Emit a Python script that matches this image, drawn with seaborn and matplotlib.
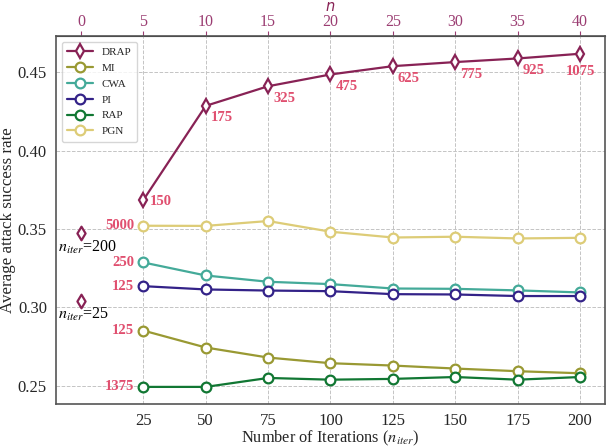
import numpy as np
import pandas as pd
import matplotlib
matplotlib.use('Agg')
import matplotlib.pyplot as plt
import seaborn as sns

# data
iters = [25, 50, 75, 100, 125, 150, 175, 200]
methods = ['DRAP', 'MI', 'CWA', 'PI', 'RAP', 'PGN']
drap = [0.3685, 0.4285, 0.4410, 0.4485, 0.4538, 0.4564, 0.4587, 0.4617]
mi = [0.2853, 0.2745, 0.2681, 0.2645, 0.2630, 0.2611, 0.2594, 0.2581]
cwa = [0.3287, 0.3204, 0.3164, 0.3149, 0.3121, 0.3119, 0.3109, 0.3096]
pi = [0.3136, 0.3115, 0.3108, 0.3104, 0.3085, 0.3083, 0.3073, 0.3073]
rap = [0.2494, 0.2494, 0.2551, 0.2540, 0.2545, 0.2557, 0.2540, 0.2557]
pgn = [0.3521, 0.3520, 0.3551, 0.3483, 0.3446, 0.3451, 0.3440, 0.3444]
drap_labels = ['150', '175', '325', '475', '625', '775', '925', '1075']
first_labels = {'PGN': '5000', 'CWA': '250', 'PI': '125', 'MI': '125', 'RAP': '1375'}
# single DRAP runs plotted at x=0
single_y = [0.3473, 0.3043]
single_labels = [r'$n_{iter}$=200', r'$n_{iter}$=25']
top_ticks = [0, 5, 10, 15, 20, 25, 30, 35, 40]

colors = {'DRAP': '#882255', 'MI': '#999933', 'CWA': '#44AA99',
          'PI': '#332288', 'RAP': '#117733', 'PGN': '#DDCC77'}
note_color = '#e04f6f'

df = pd.DataFrame({'iter': iters * 6,
                   'asr': drap + mi + cwa + pi + rap + pgn,
                   'method': np.repeat(methods, len(iters))})

sns.set_style('white')
plt.rcParams['font.family'] = ['Liberation Serif', 'DejaVu Serif']
plt.rcParams['mathtext.fontset'] = 'stix'

fig = plt.figure(figsize=(6.1, 4.48), dpi=100)
ax = fig.add_axes([0.0918, 0.0982, 0.9, 0.8214])

for m in methods:
    sub = df[df['method'] == m]
    sns.lineplot(data=sub, x='iter', y='asr', ax=ax, color=colors[m], label=m,
                 linewidth=1.6, marker='d' if m == 'DRAP' else 'o',
                 markersize=7.5 if m == 'DRAP' else 7, markerfacecolor='white',
                 markeredgecolor=colors[m], markeredgewidth=1.6)

sns.scatterplot(x=[0, 0], y=single_y, ax=ax, marker='d', s=48,
                facecolor='white', edgecolor=colors['DRAP'], linewidth=1.6,
                legend=False, zorder=5)
for yv, lab in zip(single_y, single_labels):
    ax.annotate(lab, (0, yv), xytext=(-23, -14), textcoords='offset pixels',
                ha='left', va='center', fontsize=11.5, color='black')

for i, (xv, yv, lab) in enumerate(zip(iters, drap, drap_labels)):
    if i == 0:
        off, ha = (6, -1), 'left'
    elif i == len(iters) - 1:
        off, ha = (0, -18), 'center'
    else:
        off, ha = (5, -12), 'left'
    ax.annotate(lab, (xv, yv), xytext=off, textcoords='offset pixels',
                ha=ha, va='center', fontsize=10.5, fontweight='bold',
                color=note_color)

series = {'MI': mi, 'CWA': cwa, 'PI': pi, 'RAP': rap, 'PGN': pgn}
for m, lab in first_labels.items():
    ax.annotate(lab, (iters[0], series[m][0]), xytext=(-9, 0),
                textcoords='offset pixels', ha='right', va='center',
                fontsize=10.5, fontweight='bold', color=note_color)

ax.set_xlim(-10, 210)
ax.set_ylim(0.2385, 0.473)
ax.set_xticks(iters)
ax.set_yticks([0.25, 0.30, 0.35, 0.40, 0.45])
ax.tick_params(labelsize=12, direction='out', length=3.5, color='#666666', pad=3)
ax.grid(True, linestyle='--', linewidth=0.7, color='#c4c4c4')
for s in ax.spines.values():
    s.set_color('#555555')
    s.set_linewidth(1.2)
ax.set_xlabel(r'Number of Iterations ($n_{iter}$)', fontsize=11.8, labelpad=0)
ax.set_ylabel('Average attack success rate', fontsize=12.2, labelpad=1)

top = ax.secondary_xaxis('top', functions=(lambda x: x / 5, lambda n: n * 5))
top.set_xticks(top_ticks)
top.tick_params(labelsize=11.5, colors='#9b3d72', length=3.5, pad=0.5)
fig.text(0.541, 1 - 6.5 / 448, 'n', fontsize=10.5, fontstyle='italic',
         family='DejaVu Sans', color='#882255', ha='center', va='center')

leg = ax.legend(loc='upper left', fontsize=8, frameon=True, fancybox=True,
                edgecolor='#cccccc', handlelength=2.3, borderpad=0.5,
                labelspacing=0.55)
leg.get_frame().set_linewidth(1.0)

fig.savefig('out.png', dpi=100)
